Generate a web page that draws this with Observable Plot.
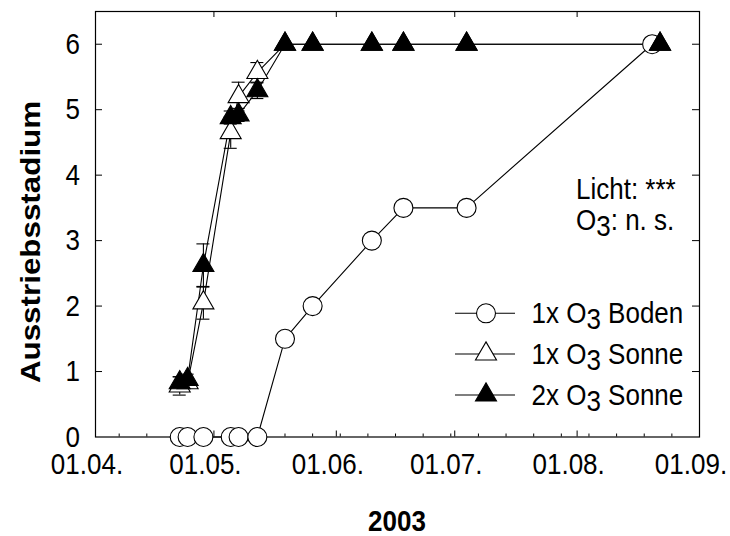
<!DOCTYPE html>
<html><head><meta charset="utf-8">
<script src="https://cdn.jsdelivr.net/npm/d3@7"></script>
<script src="https://cdn.jsdelivr.net/npm/@observablehq/plot@0.6"></script>
<style>
html,body{margin:0;padding:0;background:#fff;}
#chart{width:730px;height:536px;}
svg{font-family:"Liberation Sans",Arial,sans-serif;}
</style></head><body><div id="chart"></div>
<script>
// ---- data ----
const bodenDates  = ["2003-04-22T08:00","2003-04-24T08:00","2003-04-28T08:00","2003-05-05T06:00","2003-05-07T06:00","2003-05-12","2003-05-19","2003-05-26","2003-06-10","2003-06-18","2003-07-04","2003-08-20"];
const bodenValues = [0, 0, 0, 0, 0, 0, 1.5, 2, 3, 3.5, 3.5, 6];

const sonneDates  = ["2003-04-22T08:00","2003-04-24T08:00","2003-04-28T08:00","2003-05-05T06:00","2003-05-07T06:00","2003-05-12","2003-05-19","2003-05-26","2003-06-10","2003-06-18","2003-07-04","2003-08-22"];
const sonne1Values = [0.78, 0.83, 2.05, 4.65, 5.20, 5.57, 6, 6, 6, 6, 6, 6];
const sonne1SE     = [0.14, 0.08, 0.25, 0.24, 0.22, 0.15, 0, 0, 0, 0, 0, 0];
const sonne2Values = [0.83, 0.88, 2.62, 4.88, 4.92, 5.29, 6, 6, 6, 6, 6, 6];
const sonne2SE     = [0.09, 0.08, 0.33, 0.10, 0.10, 0.12, 0, 0, 0, 0, 0, 0];

const seriesNames = ["1x O3 Boden", "1x O3 Sonne", "2x O3 Sonne"];
const legendParts = [["1x O", "3", " Boden"], ["1x O", "3", " Sonne"], ["2x O", "3", " Sonne"]];
const monthTicks = ["2003-04-01","2003-05-01","2003-06-01","2003-07-01","2003-08-01","2003-09-01"];
const yTicks = [0, 1, 2, 3, 4, 5, 6];
const yTitle = "Ausstriebsstadium";
const xTitle = "2003";
const annotation = [["Licht: ***", "", ""], ["O", "3", ": n. s."]];

// ---- build ----
const parseT = s => new Date(s.length > 10 ? s + "Z" : s + "T00:00Z");
const rows = [];
bodenDates.forEach((d, i) => rows.push({date: parseT(d), value: bodenValues[i], se: 0, series: seriesNames[0]}));
sonneDates.forEach((d, i) => rows.push({date: parseT(d), value: sonne1Values[i], se: sonne1SE[i], series: seriesNames[1]}));
sonneDates.forEach((d, i) => rows.push({date: parseT(d), value: sonne2Values[i], se: sonne2SE[i], series: seriesNames[2]}));
const errRows = rows.filter(r => r.se > 0);

const W = 730, H = 536, mT = 11, mB = 99.5, mL = 95, mR = 31;
const frameW = W - mL - mR, frameH = H - mT - mB;
const months = monthTicks.map(parseT);
const innerMonths = months.slice(1, -1);
const weeks = d3.utcMonday.range(months[0], months[months.length - 1]);
const FONT = '"Liberation Sans", Arial, sans-serif';
const STRETCH = 1.1;

const svg = Plot.plot({
  width: W, height: H,
  marginTop: mT, marginBottom: mB, marginLeft: mL, marginRight: mR,
  style: {fontFamily: FONT, fontSize: "26px", color: "black", background: "white"},
  x: {type: "utc", domain: [months[0], months[months.length - 1]], axis: null},
  y: {domain: [0, 6.5], axis: null},
  marks: [
    Plot.tickX(innerMonths, {x: d => d, insetTop: frameH - 6, stroke: "black"}),
    Plot.tickX(innerMonths, {x: d => d, insetBottom: frameH - 6, stroke: "black"}),
    Plot.tickX(weeks, {x: d => d, insetTop: frameH - 3, stroke: "black"}),
    Plot.tickY(yTicks.slice(1), {y: d => d, insetRight: frameW - 7, stroke: "black"}),
    Plot.tickY(yTicks.slice(1), {y: d => d, insetLeft: frameW - 7, stroke: "black"}),
    Plot.frame({stroke: "black", strokeWidth: 1.2}),
    Plot.line(rows, {x: "date", y: "value", z: "series", stroke: "black", strokeWidth: 1.1}),
    Plot.ruleX(errRows, {x: "date", y1: d => d.value - d.se, y2: d => d.value + d.se, stroke: "black", strokeWidth: 1.1}),
    Plot.ruleY(errRows, {y: d => d.value + d.se, x1: "date", x2: "date", insetLeft: -6.5, insetRight: -6.5, stroke: "black", strokeWidth: 1.1}),
    Plot.ruleY(errRows, {y: d => d.value - d.se, x1: "date", x2: "date", insetLeft: -6.5, insetRight: -6.5, stroke: "black", strokeWidth: 1.1}),
    Plot.dot(rows.filter(r => r.series === seriesNames[0]), {x: "date", y: "value", symbol: "circle", r: 9.5, fill: "white", stroke: "black", strokeWidth: 1.1}),
    Plot.dot(rows.filter(r => r.series === seriesNames[1]), {x: "date", y: "value", symbol: "triangle", r: 7.8, fill: "white", stroke: "black", strokeWidth: 1.1}),
    Plot.dot(rows.filter(r => r.series === seriesNames[2]), {x: "date", y: "value", symbol: "triangle", r: 7.8, fill: "black", stroke: "black", strokeWidth: 1.1})
  ]
});

const xs = svg.scale("x"), ys = svg.scale("y");
const s = d3.select(svg);
const fmt = d3.utcFormat("%d.%m.");

function addText(parent, x, y, parts, opts = {}) {
  const t = parent.append("text")
    .attr("transform", `translate(${x},${y}) ${opts.rotate ? "rotate(-90) scale(" + (opts.sx || STRETCH) + ",1)" : "scale(1," + STRETCH + ")"}`)
    .attr("text-anchor", opts.anchor || "start")
    .attr("font-family", FONT).attr("font-size", opts.size || 26)
    .attr("font-weight", opts.bold ? "bold" : "normal").attr("fill", "black");
  t.append("tspan").text(parts[0]);
  if (parts[1]) {
    t.append("tspan").attr("dy", 5.5).text(parts[1]);
    t.append("tspan").attr("dy", -5.5).text(parts[2]);
  }
  return t;
}

// tick labels via Plot's scales
months.forEach(d => addText(s, xs.apply(d) - 8, 474, [fmt(d)], {anchor: "middle"}));
yTicks.forEach(v => addText(s, 80, ys.apply(v) + 10, [String(v)], {anchor: "end"}));

// axis titles
addText(s, 40, 242, [yTitle], {anchor: "middle", bold: true, size: 28, rotate: true, sx: 1.12});
addText(s, mL + frameW / 2, 531, [xTitle], {anchor: "middle", bold: true, size: 26});

// annotation
annotation.forEach((parts, i) => addText(s, 576, 199 + i * 31, parts));

// legend
const legY = [313.3, 354, 395];
const symbols = [d3.symbolCircle, d3.symbolTriangle, d3.symbolTriangle];
const sizes = [Math.PI * 9.5 * 9.5, Math.PI * 7.8 * 7.8, Math.PI * 7.8 * 7.8];
const fills = ["white", "white", "black"];
legendParts.forEach((parts, i) => {
  const g = s.append("g").attr("transform", `translate(0,${legY[i]})`);
  g.append("line").attr("x1", 455).attr("x2", 515).attr("stroke", "black").attr("stroke-width", 1.1);
  g.append("path").attr("transform", "translate(486,0)")
    .attr("d", d3.symbol(symbols[i], sizes[i])()).attr("fill", fills[i]).attr("stroke", "black").attr("stroke-width", 1.1);
  addText(g, 531.5, 9.5, parts);
});

document.getElementById("chart").appendChild(svg);
</script>
</body></html>
